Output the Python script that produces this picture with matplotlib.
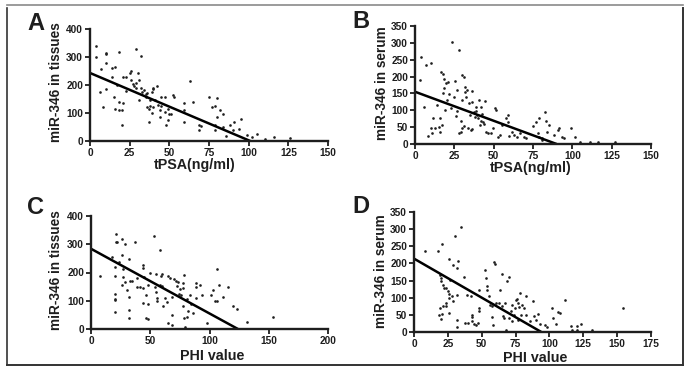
import matplotlib.pyplot as plt
from matplotlib.lines import Line2D

# ---- data (x, y) ----
# A: tPSA(ng/ml) vs miR-346 in tissues
a_points = [(4, 338), (4, 299), (7, 256), (6, 174), (10, 311), (10, 313), (10, 278), (10, 184), (8, 120), (14, 260),
            (16, 266), (18, 317), (14, 230), (17, 200), (15, 158), (16, 116), (18, 140), (18, 110), (20, 110), (21, 227),
            (23, 227), (20, 56), (21, 137), (23, 180), (25, 244), (26, 251), (26, 218), (27, 204), (28, 196), (29, 208),
            (29, 328), (30, 244), (29, 190), (31, 218), (32, 304), (32, 190), (34, 182), (31, 146), (33, 176), (35, 168),
            (35, 158), (36, 172), (37, 116), (36, 120), (38, 148), (39, 176), (40, 184), (40, 190), (41, 146), (42, 196),
            (37, 68), (39, 100), (38, 125), (40, 122), (43, 128), (44, 110), (44, 86), (45, 125), (45, 156), (47, 156),
            (47, 104), (49, 74), (49, 116), (50, 98), (51, 98), (52, 164), (53, 158), (48, 56), (59, 110), (59, 134),
            (59, 68), (63, 214), (65, 140), (69, 56), (69, 38), (70, 53), (75, 156), (77, 120), (79, 125), (80, 152),
            (80, 86), (82, 110), (84, 98), (79, 38), (79, 56), (84, 50), (86, 17), (88, 56), (90, 38), (91, 68),
            (94, 44), (95, 80), (99, 20), (102, 14), (105, 26), (110, 8), (116, 14), (126, 11)]
a_fit = (243, 101)  # y at x=0, x where the line reaches 0

# B: tPSA(ng/ml) vs miR-346 in serum
b_points = [(4, 257), (3, 190), (5.5, 111), (7, 234), (10, 239), (8.5, 24), (10.6, 32), (11.5, 76), (10, 46), (12.7, 46),
            (14, 116), (15, 51), (15.7, 76), (15.7, 37), (17, 56), (16.3, 215), (18, 208), (18.5, 192), (18.5, 165), (17.8, 150),
            (18.9, 101), (20, 180), (20.4, 130), (21, 185), (21.6, 147), (23, 106), (23.8, 304), (24.8, 140), (25.5, 186), (26, 83),
            (26.5, 98), (27, 160), (28, 279), (28, 32), (29, 37), (29, 69), (30, 205), (31, 198), (29.7, 130), (30, 46),
            (31, 53), (31.8, 168), (32, 153), (32.7, 140), (33, 160), (34, 46), (34.4, 121), (34.8, 86), (35.4, 42), (36, 158),
            (36.5, 126), (36.5, 44), (37.6, 96), (38, 81), (38.6, 111), (39, 99), (39.7, 86), (40, 76), (40.7, 130), (41, 56),
            (41.8, 111), (41.8, 69), (42.8, 88), (43, 66), (44, 59), (44.5, 128), (45, 37), (46.7, 32), (48, 34), (49.6, 46),
            (51, 106), (51.8, 101), (53, 22), (54, 27), (55.6, 56), (57.7, 76), (59, 86), (58.8, 66), (59.8, 24), (61.5, 37),
            (63, 27), (65, 22), (67, 32), (69, 22), (70.4, 17), (74.7, 53), (76.8, 66), (78.5, 76), (78, 32), (79, 22),
            (81, 17), (81, 12), (82.7, 96), (83, 68), (85, 56), (84, 37), (88.5, 27), (90.6, 42), (91.7, 46), (93.4, 22),
            (95, 17), (99, 46), (102, 22), (105, 7), (111, 7), (116, 7), (127, 7)]
b_fit = (155, 90)

# C: PHI value vs miR-346 in tissues
c_points = [(7.9, 186), (18, 254), (21, 337), (21, 307), (22, 308), (20.5, 218), (20.5, 186), (20, 123), (20, 107), (20.5, 59),
            (20, 103), (24, 237), (26, 317), (29, 301), (26, 263), (27, 212), (27, 183), (26, 154), (29, 166), (30, 139),
            (31.7, 115), (32, 68), (32, 38), (32, 249), (32.5, 171), (35, 171), (36.8, 309), (38.7, 180), (38.7, 147), (41, 147),
            (43.5, 226), (43.5, 216), (43.8, 91), (44, 145), (45, 183), (46.5, 38), (47.7, 36), (46.6, 119), (48.5, 88), (47.7, 154),
            (50, 198), (53, 329), (55, 195), (54, 147), (55, 131), (56, 109), (56, 100), (58, 157), (58, 278), (59, 186),
            (60, 153), (60.6, 80), (60, 195), (62.6, 109), (64, 97), (65, 186), (65, 20), (67, 180), (68, 115), (68.7, 50),
            (68.7, 14), (70, 178), (71.8, 171), (72.4, 151), (73.8, 166), (74.6, 123), (75, 142), (76, 119), (77.4, 163), (78, 145),
            (78.5, 192), (78, 80), (78.5, 38), (79, 8), (80.8, 107), (82, 62), (81.3, 44), (83.6, 119), (84, 88), (86.4, 56),
            (88.6, 163), (89, 147), (88.6, 109), (92, 157), (94, 119), (98, 23), (101, 119), (103, 139), (104.6, 100), (106, 100),
            (106.6, 212), (108.3, 154), (111.6, 115), (115.8, 147), (120, 80), (123.4, 71), (131.8, 24), (153.7, 44)]
c_fit = (284, 124)

# D: PHI value vs miR-346 in serum
d_points = [(7.8, 237), (17.6, 237), (20.8, 258), (30, 281), (34.8, 305), (25.5, 214), (29, 196), (32.3, 208), (32, 187), (19.3, 167),
            (20, 157), (20, 148), (21.3, 138), (22.5, 128), (23.7, 128), (25, 119), (26, 111), (26, 99), (28, 104), (28.6, 89),
            (32, 109), (26.7, 152), (23.7, 85), (23.7, 75), (21.3, 75), (19.3, 70), (18.4, 49), (19.6, 39), (20.8, 53), (26, 55),
            (32, 36), (32, 14), (37, 159), (37.9, 26), (39.6, 26), (39, 107), (42, 104), (42.8, 51), (42.8, 43), (43, 31),
            (44.5, 23), (46, 19), (47, 26), (47.7, 60), (48, 70), (48, 123), (52.6, 182), (53, 157), (53.6, 133), (54, 123),
            (55.6, 104), (56, 78), (57.5, 75), (57.5, 43), (58.5, 21), (59, 204), (60, 198), (60.4, 85), (62.4, 85), (63.4, 123),
            (64.8, 169), (64.8, 75), (65.8, 46), (66.6, 41), (67.3, 85), (67.8, 7), (69, 148), (69.8, 159), (70.2, 41), (71.5, 60),
            (72.7, 78), (72.7, 31), (74, 51), (74.6, 70), (75, 94), (76.4, 97), (77, 85), (77.6, 72), (78, 114), (78.8, 51),
            (79.5, 78), (77, 36), (81, 70), (82.5, 104), (82.5, 51), (86, 31), (88, 89), (88.6, 46), (89.8, 36), (91.8, 53),
            (92.8, 23), (97, 21), (98.4, 14), (102, 70), (103, 41), (104.5, 23), (106.5, 58), (108, 55), (111.8, 94), (116, 17),
            (117, 7), (120, 17), (120, 7), (123.6, 23), (131.4, 7), (154, 70)]
d_fit = (214, 94)

tpsa_ticks = [0, 25, 50, 75, 100, 125, 150]
phi_ticks_c = [0, 50, 100, 150, 200]
phi_ticks_d = [0, 25, 50, 75, 100, 125, 150, 175]
tissue_ticks = [0, 100, 200, 300, 400]
serum_ticks = [0, 50, 100, 150, 200, 250, 300, 350]

W, H = 692, 376
INK = '#1e1e1e'

plt.rcParams['font.family'] = ['Liberation Sans', 'DejaVu Sans']
plt.rcParams['font.weight'] = 'bold'


def px_rect(left, top, right, bottom):
    """pixel box (from the top left corner) -> figure fraction rect"""
    return [left / W, 1 - bottom / H, (right - left) / W, (bottom - top) / H]


def draw_panel(fig, box, points, fit, xticks, yticks, xlabel, ylabel, xlab_xy, ylab_xy):
    ax = fig.add_axes(px_rect(*box))
    xs = [p[0] for p in points]
    ys = [p[1] for p in points]
    ax.plot(xs, ys, 'o', ms=1.9, color=INK, mec='none', clip_on=False)
    # regression line from the y axis down to y = 0
    ax.plot([0, fit[1]], [fit[0], 0], color='black', lw=1.8, solid_capstyle='butt')

    ax.set_xlim(0, xticks[-1])
    ax.set_ylim(0, yticks[-1])
    ax.set_xticks(xticks)
    ax.set_yticks(yticks)
    for side in ['top', 'right']:
        ax.spines[side].set_visible(False)
    for side in ['left', 'bottom']:
        ax.spines[side].set_linewidth(1.7)
        ax.spines[side].set_color(INK)
    ax.tick_params(direction='out', length=3.5, width=1.3, pad=1.5, labelsize=7.3, colors=INK)
    for lab in ax.get_xticklabels() + ax.get_yticklabels():
        lab.set_fontweight('bold')

    ax.set_xlabel(xlabel, fontsize=10.3, fontweight='bold', color=INK)
    ax.set_ylabel(ylabel, fontsize=9.8, fontweight='bold', color=INK)
    ax.xaxis.set_label_coords(*xlab_xy)
    ax.yaxis.set_label_coords(*ylab_xy)
    return ax


def main():
    fig = plt.figure(figsize=(W / 100, H / 100), dpi=100)

    draw_panel(fig, (90, 29, 328, 141), a_points, a_fit, tpsa_ticks, tissue_ticks,
               'tPSA(ng/ml)', 'miR-346 in tissues', (0.44, -0.155), (-0.113, 0.527))
    draw_panel(fig, (415, 26, 651, 144), b_points, b_fit, tpsa_ticks, serum_ticks,
               'tPSA(ng/ml)', 'miR-346 in serum', (0.49, -0.14), (-0.11, 0.517))
    draw_panel(fig, (91, 216, 328, 329), c_points, c_fit, phi_ticks_c, tissue_ticks,
               'PHI value', 'miR-346 in tissues', (0.51, -0.175), (-0.118, 0.52))
    draw_panel(fig, (414, 212, 651, 332), d_points, d_fit, phi_ticks_d, serum_ticks,
               'PHI value', 'miR-346 in serum', (0.51, -0.158), (-0.11, 0.51))

    # panel letters
    for letter, x, y in [('A', 36, 24), ('B', 361, 22), ('C', 36, 208), ('D', 361, 207)]:
        fig.text(x / W, 1 - y / H, letter, fontsize=17, fontweight='bold',
                 ha='center', va='center', color=INK)

    # outer frame: grey top edge, dark sides and bottom
    fx = lambda v: v / W
    fy = lambda v: 1 - v / H
    fig.add_artist(Line2D([fx(7), fx(683)], [fy(5), fy(5)], color='#8a8a8a', lw=1.2))
    fig.add_artist(Line2D([fx(7), fx(7)], [fy(8), fy(365)], color='#333333', lw=1.2))
    fig.add_artist(Line2D([fx(683), fx(683)], [fy(8), fy(365)], color='#333333', lw=1.4))
    fig.add_artist(Line2D([fx(7), fx(683)], [fy(365), fy(365)], color='#333333', lw=1.4))

    fig.savefig('out.png', dpi=100)
    plt.close(fig)


if __name__ == '__main__':
    main()
